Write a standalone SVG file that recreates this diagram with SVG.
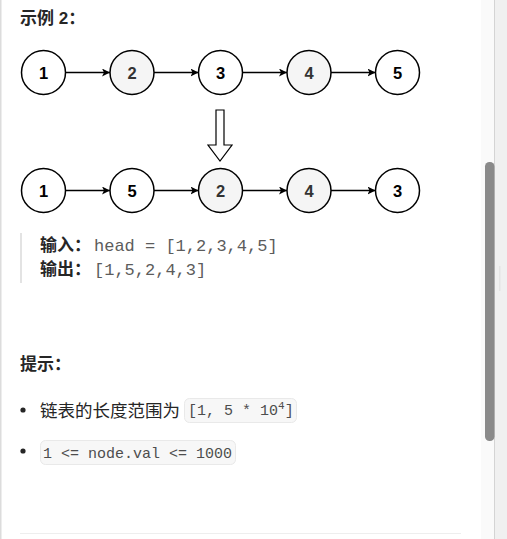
<svg xmlns="http://www.w3.org/2000/svg" width="507" height="539" viewBox="0 0 507 539">
<style>
.h{font-family:"Liberation Sans","Noto Sans CJK SC",sans-serif;font-weight:bold;font-size:17px;fill:#262626}
.t{font-family:"Liberation Sans","Noto Sans CJK SC",sans-serif;font-size:17.5px;fill:#262626}
.m{font-family:"Liberation Mono","DejaVu Sans Mono",monospace;font-size:17px;fill:#5c5c5c}
.c{font-family:"Liberation Mono","DejaVu Sans Mono",monospace;font-size:15px;fill:#4d4d4d}
.n circle{stroke:#000;stroke-width:1.5;fill:#fff}
.n.g circle{fill:#f5f5f5}
.n text{font-family:"Liberation Sans",Arial,sans-serif;font-weight:bold;font-size:16.5px;fill:#000;text-anchor:middle}
.n.g text{fill:#333}
.e line{stroke:#000;stroke-width:1.3}
.box{fill:#f7f7f7;stroke:#e9e9e9;stroke-width:1}
</style>
<defs>
<marker id="ah" viewBox="0 0 10 10" refX="10" refY="5" markerWidth="8" markerHeight="8" markerUnits="userSpaceOnUse" orient="auto">
<path d="M0,0 L10,5 L0,10 L2.5,5 Z" fill="#000"/>
</marker>
</defs>
<rect width="507" height="539" fill="#fff"/>
<rect x="0" y="0" width="1.5" height="539" fill="#dcdcdc"/>
<rect x="481" y="0" width="13" height="539" fill="#fafafa"/>
<rect x="494" y="0" width="1" height="539" fill="#d4d4d4"/>
<rect x="495" y="0" width="12" height="539" fill="#f0f0f0"/>
<rect x="485" y="162" width="9.5" height="279" rx="4.5" fill="#8a8a8a"/>
<rect x="499" y="266" width="1.5" height="25" fill="#e4e4e4"/>
<line x1="20" y1="533.5" x2="461" y2="533.5" stroke="#eeeeee" stroke-width="1"/>

<text class="h" x="20" y="24">示例 2：</text>

<g class="e" id="connectors">
<line x1="65.5" y1="72.5" x2="110" y2="72.5" marker-end="url(#ah)"/>
<line x1="154" y1="72.5" x2="198.5" y2="72.5" marker-end="url(#ah)"/>
<line x1="242.5" y1="72.5" x2="287" y2="72.5" marker-end="url(#ah)"/>
<line x1="331" y1="72.5" x2="375.5" y2="72.5" marker-end="url(#ah)"/>
<line x1="65.5" y1="190.5" x2="110" y2="190.5" marker-end="url(#ah)"/>
<line x1="154" y1="190.5" x2="198.5" y2="190.5" marker-end="url(#ah)"/>
<line x1="242.5" y1="190.5" x2="287" y2="190.5" marker-end="url(#ah)"/>
<line x1="331" y1="190.5" x2="375.5" y2="190.5" marker-end="url(#ah)"/>
<polygon points="216,110 224,110 224,145 232,145 220,161 208,145 216,145" fill="#fff" stroke="#000" stroke-width="1.2"/>
</g>

<g class="n" id="a1"><circle cx="43.5" cy="72.5" r="22"/><text x="43.5" y="78.5">1</text></g>
<g class="n g" id="a2"><circle cx="132" cy="72.5" r="22"/><text x="132" y="78.5">2</text></g>
<g class="n" id="a3"><circle cx="220.5" cy="72.5" r="22"/><text x="220.5" y="78.5">3</text></g>
<g class="n g" id="a4"><circle cx="309" cy="72.5" r="22"/><text x="309" y="78.5">4</text></g>
<g class="n" id="a5"><circle cx="397.5" cy="72.5" r="22"/><text x="397.5" y="78.5">5</text></g>

<g class="n" id="b1"><circle cx="43.5" cy="190.5" r="22"/><text x="43.5" y="196.5">1</text></g>
<g class="n" id="b5"><circle cx="132" cy="190.5" r="22"/><text x="132" y="196.5">5</text></g>
<g class="n g" id="b2"><circle cx="220.5" cy="190.5" r="22"/><text x="220.5" y="196.5">2</text></g>
<g class="n g" id="b4"><circle cx="309" cy="190.5" r="22"/><text x="309" y="196.5">4</text></g>
<g class="n" id="b3"><circle cx="397.5" cy="190.5" r="22"/><text x="397.5" y="196.5">3</text></g>

<rect x="20" y="233" width="2" height="50" fill="#e3e3e3"/>
<text class="h" x="40" y="251">输入：</text>
<text class="m" x="94" y="251">head = [1,2,3,4,5]</text>
<text class="h" x="40" y="275">输出：</text>
<text class="m" x="94" y="275">[1,5,2,4,3]</text>

<text class="h" x="20" y="370">提示：</text>

<circle cx="23" cy="410" r="2.6" fill="#262626"/>
<text class="t" x="40" y="417">链表的长度范围为</text>
<rect class="box" x="184.5" y="398.5" width="112" height="24" rx="5"/>
<text class="c" x="188" y="415">[1, 5 * 10<tspan font-size="11" dy="-6">4</tspan><tspan dy="6">]</tspan></text>

<circle cx="23" cy="451" r="2.6" fill="#262626"/>
<rect class="box" x="40.5" y="440.5" width="195" height="24" rx="5"/>
<text class="c" x="43" y="458">1 &lt;= node.val &lt;= 1000</text>
</svg>
